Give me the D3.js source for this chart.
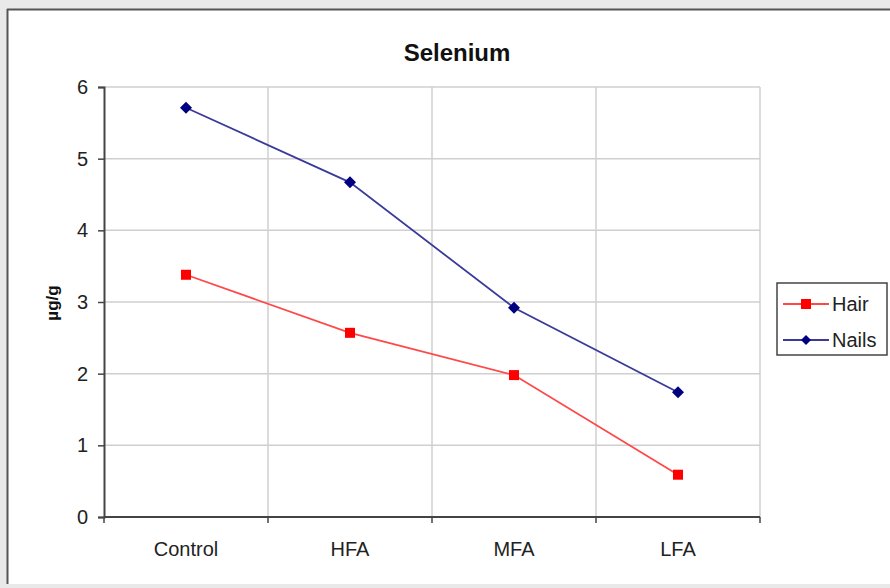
<!DOCTYPE html>
<html><head><meta charset="utf-8">
<script src="https://cdn.jsdelivr.net/npm/d3@7/dist/d3.min.js"></script>
<style>
html,body{margin:0;padding:0;background:#e9e9e9;}
svg{display:block;font-family:"Liberation Sans",Arial,sans-serif;}
</style></head>
<body><svg id="c" width="890" height="588"></svg>
<script>
const categories = ["Control","HFA","MFA","LFA"];
const hairValues = [3.38, 2.57, 1.98, 0.59];
const nailsValues = [5.71, 4.67, 2.92, 1.74];
const yTicks = [0,1,2,3,4,5,6];
const seriesNames = ["Hair","Nails"];

const svg = d3.select("#c");
// outer chart frame
svg.append("rect").attr("x",7).attr("y",9).attr("width",890).attr("height",575).attr("fill","#fff");
svg.append("line").attr("x1",7.5).attr("x2",7.5).attr("y1",9).attr("y2",584).attr("stroke","#555").attr("stroke-width",2);
svg.append("line").attr("x1",7).attr("x2",890).attr("y1",9.5).attr("y2",9.5).attr("stroke","#555").attr("stroke-width",2);

const L=104,R=760,T=87,B=517;
const x = d3.scaleBand().domain(categories).range([L,R]).padding(0);
const y = d3.scaleLinear().domain([0,6]).range([B,T]);

// grid
const g = svg.append("g");
g.selectAll(".hg").data(yTicks.slice(1)).join("line")
 .attr("x1",L).attr("x2",R).attr("y1",d=>y(d)).attr("y2",d=>y(d))
 .attr("stroke","#cfcfcf").attr("stroke-width",1.5);
const bounds = categories.map(c=>x(c)).concat([R]);
g.selectAll(".vg").data(bounds.slice(1)).join("line")
 .attr("x1",d=>d).attr("x2",d=>d).attr("y1",T).attr("y2",B)
 .attr("stroke","#cfcfcf").attr("stroke-width",1.5);

// axes
const yAxis = d3.axisLeft(y).tickValues(yTicks).tickFormat(d3.format("d")).tickSize(6).tickPadding(10);
const ya = svg.append("g").attr("transform",`translate(${L},0)`).call(yAxis);
ya.select(".domain").attr("stroke","#444").attr("stroke-width",2);
ya.selectAll(".tick line").attr("stroke","#444").attr("stroke-width",1.5);
ya.selectAll("text").attr("font-size",20).attr("fill","#222").attr("font-family","Liberation Sans, Arial, sans-serif");

const xa = svg.append("g").attr("transform",`translate(0,${B})`);
xa.append("line").attr("x1",L).attr("x2",R).attr("y1",0).attr("y2",0).attr("stroke","#444").attr("stroke-width",2);
xa.selectAll(".xt").data(bounds).join("line").attr("x1",d=>d).attr("x2",d=>d).attr("y1",0).attr("y2",6).attr("stroke","#444").attr("stroke-width",1.5);
xa.selectAll(".xl").data(categories).join("text")
 .attr("x",d=>x(d)+x.bandwidth()/2).attr("y",39).attr("text-anchor","middle")
 .attr("font-size",20).attr("fill","#222").text(d=>d);

// title
svg.append("text").attr("x",457).attr("y",61).attr("text-anchor","middle")
 .attr("font-size",24).attr("font-weight","bold").attr("fill","#111").text("Selenium");
// y label
svg.append("text").attr("transform","translate(58,303) rotate(-90)").attr("text-anchor","middle")
 .attr("font-size",17).attr("font-weight","bold").attr("fill","#111").text("µg/g");

const cx = d=>x(d)+x.bandwidth()/2;
const line = d3.line().x((d,i)=>cx(categories[i])).y(d=>y(d));
const diamond = "M0,-6L6,0L0,6L-6,0Z";

// Nails
svg.append("path").datum(nailsValues).attr("d",line).attr("fill","none").attr("stroke","#3a3a9a").attr("stroke-width",1.8);
svg.selectAll(".nm").data(nailsValues).join("path")
 .attr("d",diamond).attr("transform",(d,i)=>`translate(${cx(categories[i])},${y(d)})`).attr("fill","#000080");
// Hair
svg.append("path").datum(hairValues).attr("d",line).attr("fill","none").attr("stroke","#ff4848").attr("stroke-width",1.8);
svg.selectAll(".hm").data(hairValues).join("rect")
 .attr("x",(d,i)=>cx(categories[i])-5).attr("y",d=>y(d)-5).attr("width",10).attr("height",10).attr("fill","#ff0000");

// legend
const lg = svg.append("g");
lg.append("rect").attr("x",777).attr("y",283).attr("width",110).attr("height",72).attr("fill","#fff").attr("stroke","#444").attr("stroke-width",1.5);
const legendColors = {"Hair":"#ff4848","Nails":"#3a3a9a"};
seriesNames.forEach((n,i)=>{
  const yy = 304 + i*36;
  lg.append("line").attr("x1",783).attr("x2",829).attr("y1",yy).attr("y2",yy).attr("stroke",legendColors[n]).attr("stroke-width",1.8);
  if(n==="Hair") lg.append("rect").attr("x",801).attr("y",yy-5).attr("width",10).attr("height",10).attr("fill","#ff0000");
  else lg.append("path").attr("d","M0,-5L5,0L0,5L-5,0Z").attr("transform",`translate(806,${yy})`).attr("fill","#000080");
  lg.append("text").attr("x",832).attr("y",yy+7).attr("font-size",20).attr("fill","#222").text(n);
});
</script></body></html>
